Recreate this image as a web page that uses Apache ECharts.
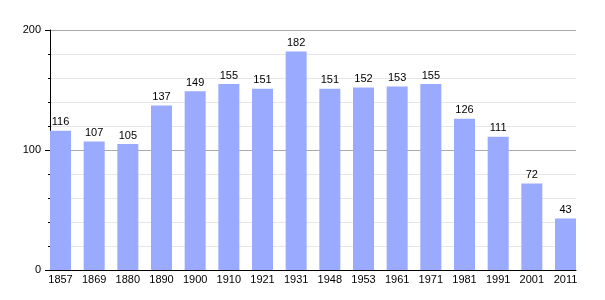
<!DOCTYPE html>
<html><head><meta charset="utf-8">
<script src="https://cdn.jsdelivr.net/npm/echarts@6/dist/echarts.min.js"></script>
<style>html,body{margin:0;padding:0;background:#fff}#c{width:605px;height:300px}</style>
</head><body><div id="c"></div>
<script>
var categories = ['1857','1869','1880','1890','1900','1910','1921','1931','1948','1953','1961','1971','1981','1991','2001','2011'];
var population = [116,107,105,137,149,155,151,182,151,152,153,155,126,111,72,43];
var yTicks = [0,100,200];

var font = "'Liberation Sans', Arial, sans-serif";
var chart = echarts.init(document.getElementById('c'), null, {renderer:'canvas'});
chart.setOption({
  animation: false,
  grid: [
    {left: 50, right: 29, top: 30, bottom: 30},
    {left: 60.5, right: 39.5, top: 30, bottom: 30}
  ],
  xAxis: [
    {gridIndex:0, type:'category', data:categories, boundaryGap:true,
     axisLine:{show:true, lineStyle:{color:'#000', width:1}},
     axisTick:{show:false}, axisLabel:{show:false}, splitLine:{show:false}},
    {gridIndex:1, type:'category', data:categories, boundaryGap:false,
     axisLine:{show:false}, axisTick:{show:false},
     axisLabel:{show:true, color:'#000', fontSize:11, fontFamily:font, margin:4, interval:0},
     splitLine:{show:false}}
  ],
  yAxis: [
    {gridIndex:0, type:'value', min:yTicks[0], max:yTicks[yTicks.length-1], interval:100,
     axisLine:{show:true, lineStyle:{color:'#000', width:1}},
     axisTick:{show:true, length:5, lineStyle:{color:'#000'}},
     minorTick:{show:true, splitNumber:5, length:2, lineStyle:{color:'#000'}},
     axisLabel:{color:'#000', fontSize:11, fontFamily:font, margin:9},
     splitLine:{show:true, lineStyle:{color:'#aaaaaa', width:1}},
     minorSplitLine:{show:true, lineStyle:{color:'#e6e6e6', width:1}}},
    {gridIndex:1, type:'value', min:yTicks[0], max:yTicks[yTicks.length-1], interval:100, show:false}
  ],
  series: [{
    type:'bar', xAxisIndex:1, yAxisIndex:1, data:population, barWidth:21,
    itemStyle:{color:'#99aaff'},
    label:{show:true, position:'top', distance:3, color:'#000', fontSize:11, fontFamily:font}
  }]
});
</script></body></html>
